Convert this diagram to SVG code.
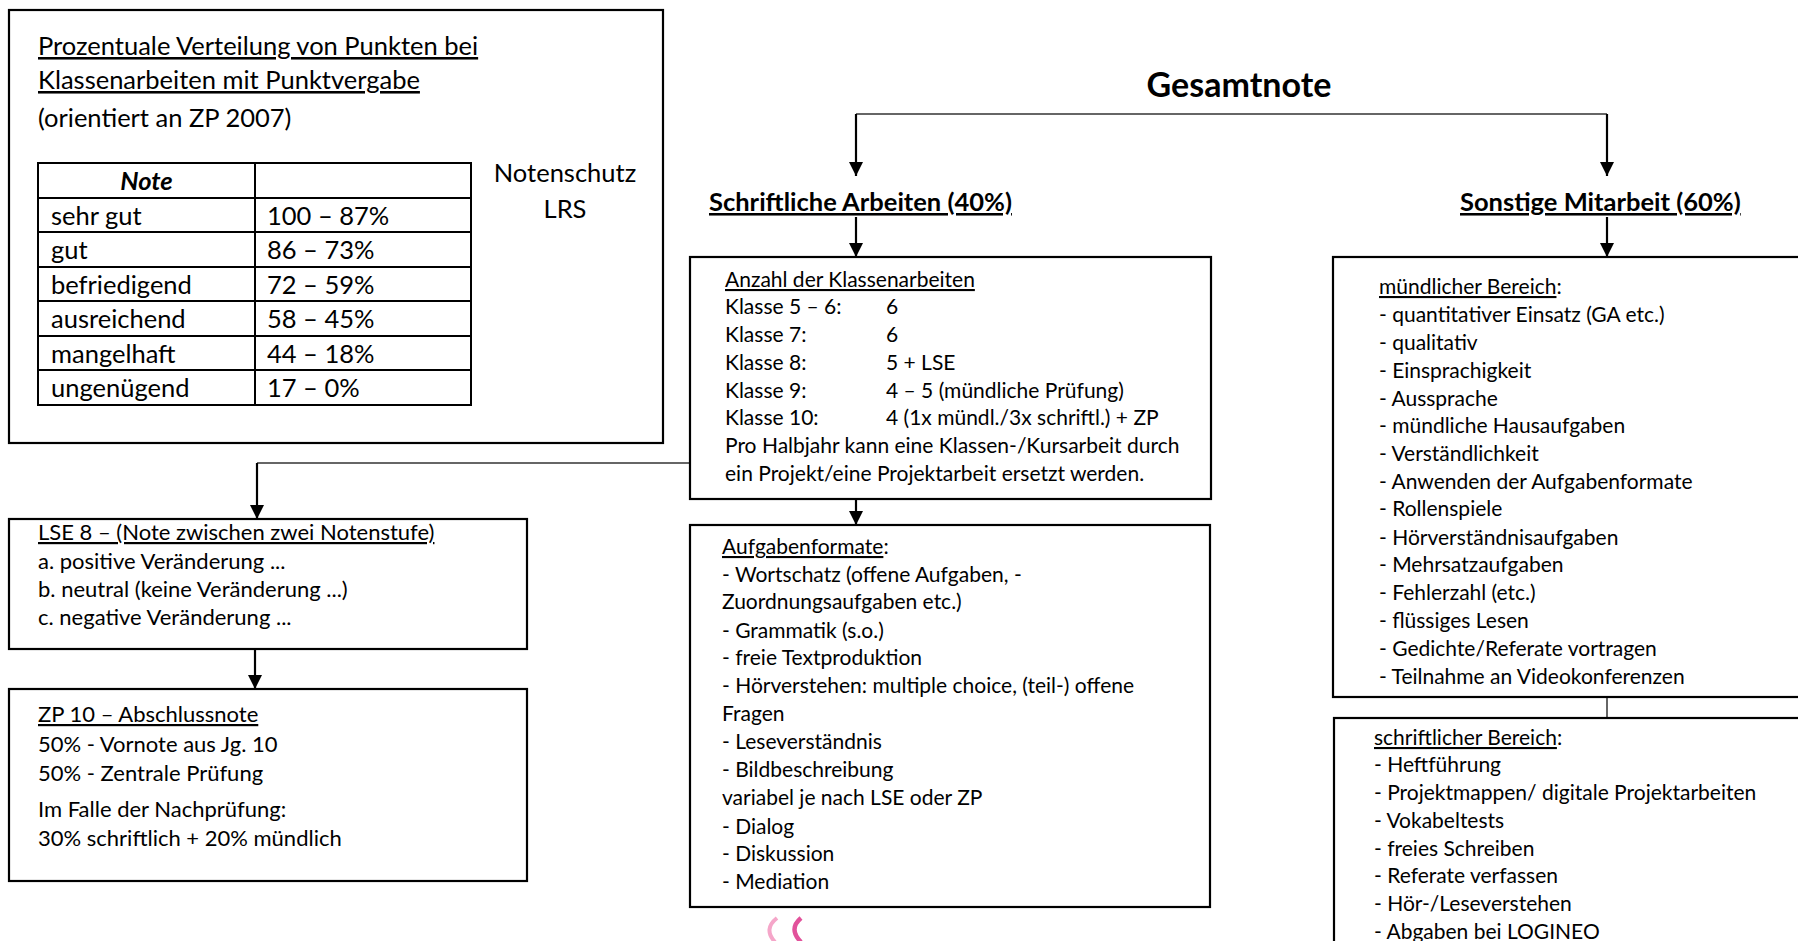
<svg xmlns="http://www.w3.org/2000/svg" width="1798" height="941" viewBox="0 0 1798 941">
<style>
text{font-family:Lato,"Liberation Sans",sans-serif;fill:#000}
.box{fill:#fff;stroke:#000;stroke-width:2.2}
.grid{fill:none;stroke:#000;stroke-width:2}
.u{text-decoration:underline}
.s27{font-size:25.5px}
.s24{font-size:22px}
.s23{font-size:21px}
.hd{font-size:25.5px;font-weight:bold;text-decoration:underline}
.arrow{fill:none;stroke:#000;stroke-width:2.2;marker-end:url(#ah)}
.line{fill:none;stroke:#333;stroke-width:1.5}
</style>
<defs>
<marker id="ah" viewBox="0 0 14 14" refX="14" refY="7" markerWidth="14" markerHeight="14" markerUnits="userSpaceOnUse" orient="auto">
<path d="M0,0 L14,7 L0,14 z" fill="#000"/>
</marker>
</defs>
<rect width="1798" height="941" fill="#fff"/>

<g id="connectors">
<path class="line" d="M856,114 H1607"/>
<path class="arrow" d="M856,114 V176"/>
<path class="arrow" d="M1607,114 V176"/>
<path class="arrow" d="M856,217 V257"/>
<path class="arrow" d="M1607,217 V257"/>
<path class="line" d="M689,463 H257"/>
<path class="arrow" d="M257,463 V519"/>
<path class="arrow" d="M856,499 V525"/>
<path class="arrow" d="M255,649 V689"/>
<path class="line" d="M1607,697 V718"/>
</g>

<g id="punkte">
<rect class="box" x="9" y="10" width="654" height="433"/>
<text class="s27" x="38" y="55"><tspan class="u">Prozentuale Verteilung von Punkten bei</tspan></text>
<text class="s27" x="38" y="89"><tspan class="u">Klassenarbeiten mit Punktvergabe</tspan></text>
<text class="s27" x="38" y="127">(orientiert an ZP 2007)</text>
<rect class="grid" x="38" y="163" width="433" height="242"/>
<path class="grid" d="M38,198 H471 M38,232 H471 M38,267 H471 M38,301 H471 M38,336 H471 M38,370 H471 M255,163 V405"/>
<text class="s27" x="146.5" y="190" text-anchor="middle" font-weight="bold" font-style="italic">Note</text>
<text class="s27" x="51" y="225">sehr gut</text>
<text class="s27" x="51" y="259">gut</text>
<text class="s27" x="51" y="294">befriedigend</text>
<text class="s27" x="51" y="328">ausreichend</text>
<text class="s27" x="51" y="363">mangelhaft</text>
<text class="s27" x="51" y="397">ungenügend</text>
<text class="s27" x="267" y="225">100 – 87%</text>
<text class="s27" x="267" y="259">86 – 73%</text>
<text class="s27" x="267" y="294">72 – 59%</text>
<text class="s27" x="267" y="328">58 – 45%</text>
<text class="s27" x="267" y="363">44 – 18%</text>
<text class="s27" x="267" y="397">17 – 0%</text>
<text class="s27" x="565" y="182" text-anchor="middle">Notenschutz</text>
<text class="s27" x="565" y="218" text-anchor="middle">LRS</text>
</g>

<g id="gesamtnote">
<text x="1239" y="97" text-anchor="middle" font-size="34" font-weight="bold">Gesamtnote</text>
</g>

<g id="schriftlich">
<text class="hd" x="709" y="211">Schriftliche Arbeiten (40%)</text>
</g>

<g id="sonstige">
<text class="hd" x="1460" y="211">Sonstige Mitarbeit (60%)</text>
</g>

<g id="anzahl">
<rect class="box" x="690" y="257" width="521" height="242"/>
<text class="s23" x="725" y="287"><tspan class="u">Anzahl der Klassenarbeiten</tspan></text>
<text class="s23" x="725" y="314">Klasse 5 – 6:</text><text class="s23" x="886" y="314">6</text>
<text class="s23" x="725" y="342">Klasse 7:</text><text class="s23" x="886" y="342">6</text>
<text class="s23" x="725" y="370">Klasse 8:</text><text class="s23" x="886" y="370">5 + LSE</text>
<text class="s23" x="725" y="398">Klasse 9:</text><text class="s23" x="886" y="398">4 – 5 (mündliche Prüfung)</text>
<text class="s23" x="725" y="425">Klasse 10:</text><text class="s23" x="886" y="425">4 (1x mündl./3x schriftl.) + ZP</text>
<text class="s23" x="725" y="453">Pro Halbjahr kann eine Klassen-/Kursarbeit durch</text>
<text class="s23" x="725" y="481">ein Projekt/eine Projektarbeit ersetzt werden.</text>
</g>

<g id="aufgabenformate">
<rect class="box" x="690" y="525" width="520" height="382"/>
<text class="s23" x="722" y="554"><tspan class="u">Aufgabenformate</tspan>:</text>
<text class="s23" x="722" y="582">- Wortschatz (offene Aufgaben, -</text>
<text class="s23" x="722" y="609">Zuordnungsaufgaben etc.)</text>
<text class="s23" x="722" y="638">- Grammatik (s.o.)</text>
<text class="s23" x="722" y="665">- freie Textproduktion</text>
<text class="s23" x="722" y="693">- Hörverstehen: multiple choice, (teil-) offene</text>
<text class="s23" x="722" y="721">Fragen</text>
<text class="s23" x="722" y="749">- Leseverständnis</text>
<text class="s23" x="722" y="777">- Bildbeschreibung</text>
<text class="s23" x="722" y="805">variabel je nach LSE oder ZP</text>
<text class="s23" x="722" y="834">- Dialog</text>
<text class="s23" x="722" y="861">- Diskussion</text>
<text class="s23" x="722" y="889">- Mediation</text>
</g>

<g id="lse8">
<rect class="box" x="9" y="519" width="518" height="130"/>
<text class="s24" x="38" y="540"><tspan class="u">LSE 8 – (Note zwischen zwei Notenstufe)</tspan></text>
<text class="s24" x="38" y="569">a. positive Veränderung ...</text>
<text class="s24" x="38" y="597">b. neutral (keine Veränderung ...)</text>
<text class="s24" x="38" y="625">c. negative Veränderung ...</text>
</g>

<g id="zp10">
<rect class="box" x="9" y="689" width="518" height="192"/>
<text class="s24" x="38" y="722"><tspan class="u">ZP 10 – Abschlussnote</tspan></text>
<text class="s24" x="38" y="752">50% - Vornote aus Jg. 10</text>
<text class="s24" x="38" y="781">50% - Zentrale Prüfung</text>
<text class="s24" x="38" y="817">Im Falle der Nachprüfung:</text>
<text class="s24" x="38" y="846">30% schriftlich + 20% mündlich</text>
</g>

<g id="muendlich">
<rect class="box" x="1333" y="257" width="480" height="440"/>
<text class="s23" x="1379" y="294"><tspan class="u">mündlicher Bereich</tspan>:</text>
<text class="s23" x="1379" y="322">- quantitativer Einsatz (GA etc.)</text>
<text class="s23" x="1379" y="350">- qualitativ</text>
<text class="s23" x="1379" y="378">- Einsprachigkeit</text>
<text class="s23" x="1379" y="406">- Aussprache</text>
<text class="s23" x="1379" y="433">- mündliche Hausaufgaben</text>
<text class="s23" x="1379" y="461">- Verständlichkeit</text>
<text class="s23" x="1379" y="489">- Anwenden der Aufgabenformate</text>
<text class="s23" x="1379" y="516">- Rollenspiele</text>
<text class="s23" x="1379" y="545">- Hörverständnisaufgaben</text>
<text class="s23" x="1379" y="572">- Mehrsatzaufgaben</text>
<text class="s23" x="1379" y="600">- Fehlerzahl (etc.)</text>
<text class="s23" x="1379" y="628">- flüssiges Lesen</text>
<text class="s23" x="1379" y="656">- Gedichte/Referate vortragen</text>
<text class="s23" x="1379" y="684">- Teilnahme an Videokonferenzen</text>
</g>

<g id="schriftlicherBereich">
<rect class="box" x="1334" y="718" width="480" height="240"/>
<text class="s23" x="1374" y="745"><tspan class="u">schriftlicher Bereich</tspan>:</text>
<text class="s23" x="1374" y="772">- Heftführung</text>
<text class="s23" x="1374" y="800">- Projektmappen/ digitale Projektarbeiten</text>
<text class="s23" x="1374" y="828">- Vokabeltests</text>
<text class="s23" x="1374" y="856">- freies Schreiben</text>
<text class="s23" x="1374" y="883">- Referate verfassen</text>
<text class="s23" x="1374" y="911">- Hör-/Leseverstehen</text>
<text class="s23" x="1374" y="939">- Abgaben bei LOGINEO</text>
</g>

<g id="pink">
<path d="M777,918 Q763,929 775,942" fill="none" stroke="#f5a6c9" stroke-width="4"/>
<path d="M801,918 Q788,929 801,942" fill="none" stroke="#e2529b" stroke-width="4.5"/>
</g>
</svg>
